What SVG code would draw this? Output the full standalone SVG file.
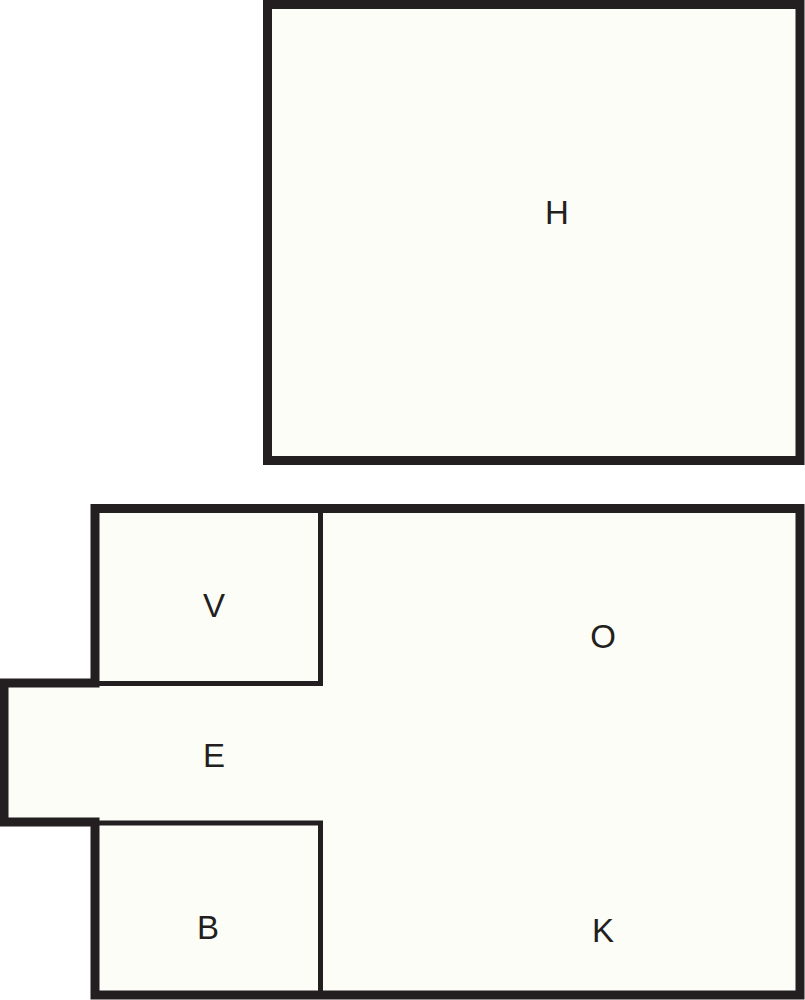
<svg xmlns="http://www.w3.org/2000/svg" width="805" height="1000" viewBox="0 0 805 1000">
<style>
.room{fill:#fdfdf7;stroke:#231f20;stroke-width:9;stroke-linejoin:miter}
.wall{fill:none;stroke:#231f20;stroke-width:5}
.lbl{font-family:"Liberation Sans",Arial,sans-serif;font-size:33px;fill:#231f20;text-anchor:middle}
</style>
<rect width="805" height="1000" fill="#ffffff"/>
<g id="H">
<rect class="room" x="267.5" y="4.5" width="532.5" height="456"/>
<text class="lbl" x="557" y="224">H</text>
</g>
<g id="main">
<path class="room" d="M95 508.5 H800 V995 H95 V822 H4 V683 H95 Z"/>
</g>
<g id="V">
<path class="wall" d="M95 683.5 H320.5 V508"/>
<text class="lbl" x="214" y="617">V</text>
</g>
<g id="E">
<text class="lbl" x="214" y="767">E</text>
</g>
<g id="B">
<path class="wall" d="M95 823 H320.5 V995"/>
<text class="lbl" x="208" y="939">B</text>
</g>
<g id="O">
<text class="lbl" x="603" y="648">O</text>
</g>
<g id="K">
<text class="lbl" x="603" y="942">K</text>
</g>
</svg>
